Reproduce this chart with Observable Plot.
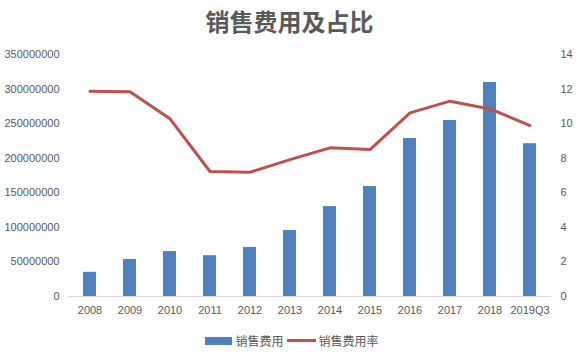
<!DOCTYPE html>
<html><head><meta charset="utf-8">
<script src="https://cdn.jsdelivr.net/npm/d3@7"></script>
<script src="https://cdn.jsdelivr.net/npm/@observablehq/plot@0.6"></script>
<style>
body{margin:0;background:#fff;font-family:"Noto Sans CJK SC","Liberation Sans",sans-serif;}
#title{height:40px;line-height:42px;text-align:center;font-size:24px;font-weight:bold;color:#595959;}
#legend{height:31px;display:flex;justify-content:center;align-items:center;font-size:12px;color:#595959;padding-left:5px;}
#legend span{display:inline-flex;align-items:center;}
svg{display:block;}
</style></head>
<body>
<div id="title">销售费用及占比</div>
<div id="chart"></div>
<div id="legend">
<span><i style="display:inline-block;width:27px;height:8px;background:#4F81BD;margin-right:3px"></i>销售费用</span>
<span style="margin-left:3px"><i style="display:inline-block;width:29px;height:3px;background:#C0504D;margin-right:3px"></i>销售费用率</span>
</div>
<script>
const years = ["2008","2009","2010","2011","2012","2013","2014","2015","2016","2017","2018","2019Q3"];
const expense = [35000000,53500000,65000000,59000000,71000000,95500000,130000000,159000000,228500000,254500000,309500000,221000000];
const rate = [11.87,11.84,10.28,7.23,7.19,7.92,8.6,8.5,10.62,11.3,10.85,9.89];
const leftTicks = [0,50000000,100000000,150000000,200000000,250000000,300000000,350000000];
const rightTicks = [0,2,4,6,8,10,12,14];

const k = 350000000 / 14;
const data = years.map((y,i)=>({year:y, expense:expense[i], rate:rate[i]}));

const chart = Plot.plot({
  width:579, height:285,
  marginTop:14, marginBottom:29, marginLeft:68, marginRight:28,
  style:{fontFamily:"'Liberation Sans',Arial,sans-serif", fontSize:"11px", color:"#595959"},
  x:{domain:years, paddingInner:0.68, paddingOuter:0.34, label:null},
  y:{domain:[0,350000000], label:null},
  marks:[
    Plot.barY(data,{x:"year", y:"expense", fill:"#4F81BD"}),
    Plot.ruleY([0],{stroke:"#D9D9D9", strokeWidth:1}),
    Plot.line(data,{x:"year", y:d=>d.rate*k, stroke:"#C0504D", strokeWidth:3, curve:"linear"}),
    Plot.axisY(leftTicks,{anchor:"left", tickSize:0, tickPadding:9, tickFormat:d=>String(d), label:null, fill:"#595959"}),
    Plot.axisY(rightTicks.map(t=>t*k),{anchor:"right", tickSize:0, tickPadding:9, tickFormat:d=>String(Math.round(d/k)), label:null, fill:"#595959"}),
    Plot.axisX({tickSize:0, tickPadding:10, label:null, fill:"#595959"})
  ]
});
document.getElementById("chart").appendChild(chart);
</script>
</body></html>
